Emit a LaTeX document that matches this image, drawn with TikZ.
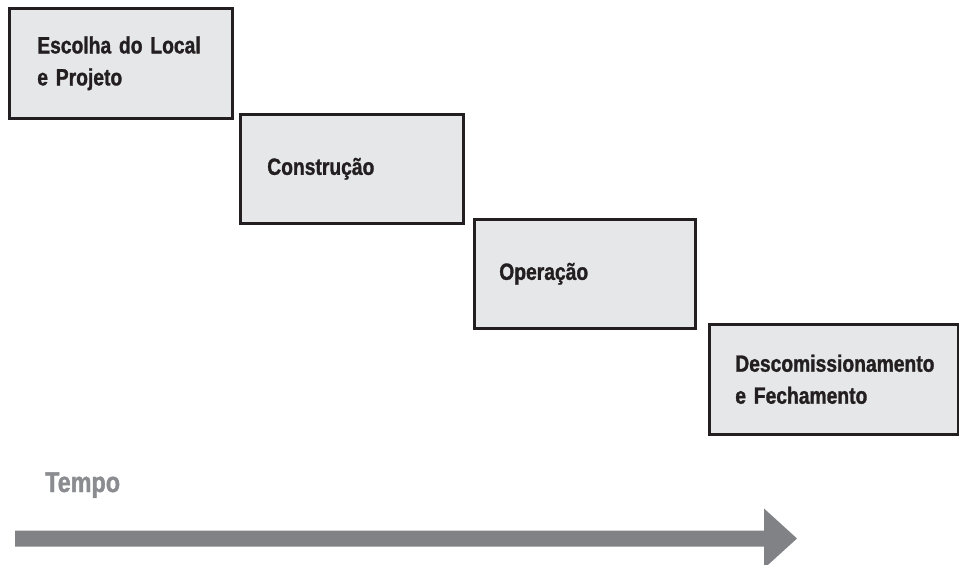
\documentclass[tikz,border=0pt]{standalone}
\usepackage{fontspec}
\newfontfamily\condfont{Liberation Sans}[FakeStretch=0.82,FakeBold=1.2]
\definecolor{boxfill}{HTML}{E6E7E8}
\definecolor{boxline}{HTML}{231F20}
\definecolor{timegray}{HTML}{808285}
\definecolor{tempogray}{HTML}{8A8C8F}
\tikzset{
  stage/.style={draw=boxline, fill=boxfill, line width=2.6pt, anchor=north west,
    align=left, inner ysep=0pt, text=boxline,
    font=\condfont\bfseries\fontsize{23.5}{32}\selectfont},
}
\begin{document}
\begin{tikzpicture}[x=1pt,y=-1pt]
\useasboundingbox (0,0) rectangle (959,565);
\node[stage, minimum width=223pt, minimum height=110pt, inner xsep=28pt, text width=167pt] (s1) at (8,7) {Escolha do Local\\e Projeto};
\node[stage, minimum width=223pt, minimum height=109pt, inner xsep=27pt, text width=169pt] (s2) at (239,113) {Construção};
\node[stage, minimum width=221pt, minimum height=109pt, inner xsep=25pt, text width=171pt] (s3) at (473,218) {Operação};
\node[stage, minimum width=249pt, minimum height=110pt, inner xsep=26pt, text width=197pt] (s4) at (708,323) {Descomissionamento\\e Fechamento};
\node[anchor=base west, inner sep=0pt, text=tempogray, font=\condfont\bfseries\fontsize{28.5}{34}\selectfont] (tempo) at (45,492) {Tempo};
\fill[timegray] (15,530.5) -- (764,530.5) -- (764,508.5) -- (797,538.5) -- (764,568.5) -- (764,546.5) -- (15,546.5) -- cycle;
\end{tikzpicture}
\end{document}
